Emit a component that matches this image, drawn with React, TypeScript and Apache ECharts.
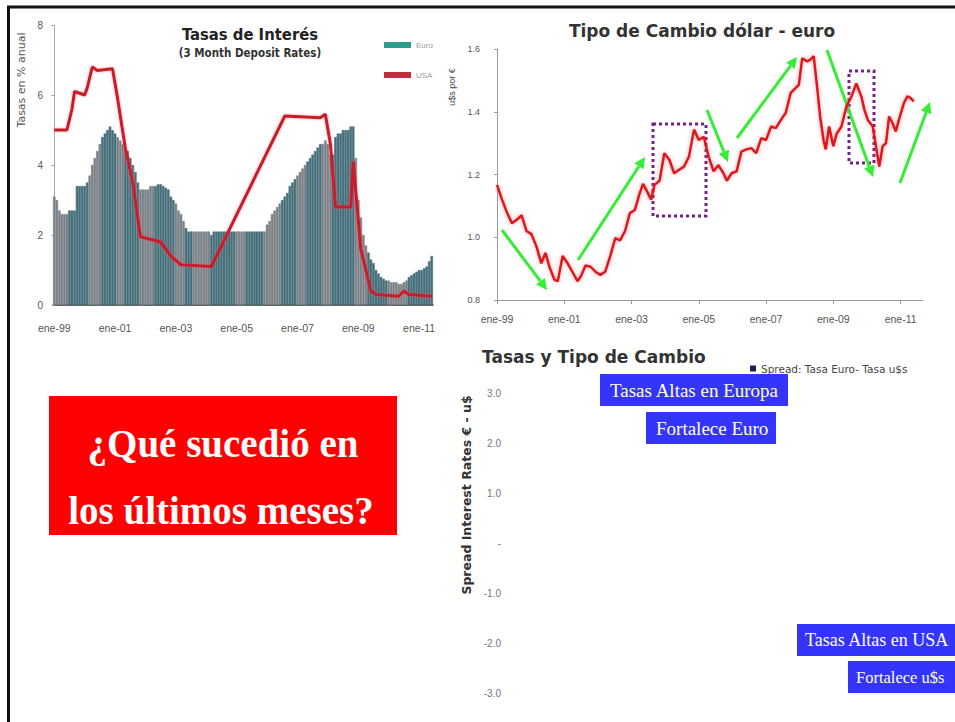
import React, { useEffect, useRef } from "react";
import * as echarts from "echarts";

// ---------- Data ----------
const monthAbbr = ["ene", "feb", "mar", "abr", "may", "jun", "jul", "ago", "sep", "oct", "nov", "dic"];
const startYear = 1999;
const monthCount = 150;
const months: string[] = Array.from({ length: monthCount }, (_, i) => {
  const y = (startYear + Math.floor(i / 12)) % 100;
  return monthAbbr[i % 12] + "-" + String(y).padStart(2, "0");
});

// 3-month Euro deposit rate (monthly, ene-99 .. jun-11)
const euroRate = [
  3.1, 3.0, 2.7, 2.6, 2.6, 2.6, 2.7, 2.7, 2.7, 3.4,
  3.4, 3.4, 3.4, 3.5, 3.7, 4.0, 4.2, 4.4, 4.6, 4.8,
  4.9, 5.0, 5.1, 5.0, 4.9, 4.8, 4.7, 4.6, 4.5, 4.4,
  4.2, 4.0, 3.8, 3.5, 3.3, 3.3, 3.3, 3.3, 3.4, 3.4,
  3.4, 3.45, 3.45, 3.4, 3.35, 3.3, 3.1, 3.0, 2.9, 2.7,
  2.6, 2.4, 2.2, 2.1, 2.1, 2.1, 2.1, 2.1, 2.1, 2.1,
  2.1, 2.1, 2.0, 2.1, 2.1, 2.1, 2.1, 2.1, 2.1, 2.1,
  2.1, 2.1, 2.1, 2.1, 2.1, 2.1, 2.1, 2.1, 2.1, 2.1,
  2.1, 2.1, 2.1, 2.1, 2.3, 2.4, 2.6, 2.7, 2.8, 2.9,
  3.0, 3.1, 3.2, 3.4, 3.5, 3.6, 3.7, 3.8, 3.9, 4.0,
  4.1, 4.2, 4.3, 4.4, 4.5, 4.6, 4.6, 4.7, 4.6, 4.3,
  4.3, 4.8, 4.9, 4.9, 5.0, 5.0, 5.0, 5.1, 5.1, 4.2,
  3.0, 2.5, 2.0, 1.7, 1.5, 1.3, 1.2, 1.0, 0.9, 0.8,
  0.75, 0.7, 0.7, 0.65, 0.65, 0.65, 0.6, 0.6, 0.65, 0.7,
  0.8, 0.85, 0.9, 0.95, 1.0, 1.0, 1.05, 1.1, 1.25, 1.4,
];

// 3-month USA deposit rate, read at the line's break points (month index, %)
const usaMonth = [0, 5, 7, 8, 12, 13, 15, 17, 23, 25, 28, 31, 34, 42, 46, 50, 62, 91, 105, 107, 109, 111, 117, 118, 121, 123, 125, 127, 136, 138, 140, 149];
const usaRate = [5.0, 5.0, 5.6, 6.1, 6.0, 6.2, 6.8, 6.7, 6.75, 5.9, 4.5, 3.5, 1.95, 1.8, 1.4, 1.15, 1.1, 5.4, 5.35, 5.45, 4.6, 2.8, 2.8, 4.1, 1.6, 1.0, 0.4, 0.3, 0.25, 0.4, 0.3, 0.25];

// Dollar-euro exchange rate (month index from ene-99, u$s per €)
const fxMonth = [0, 1.8, 3.5, 5.3, 7.0, 8.8, 10.5, 12.3, 14.1, 15.8, 17.3, 18.7, 20.5, 21.7, 23.4, 25.2, 26.9, 28.7, 29.9, 31.6, 33.4, 35.1, 36.9, 38.6, 40.4, 42.2, 43.9, 45.7, 47.4, 49.2, 50.9, 52.1, 53.3, 55.0, 56.2, 58.0, 59.7, 61.5, 63.2, 65.0, 66.7, 68.5, 70.3, 72.0, 73.8, 75.5, 77.3, 79.0, 80.8, 82.0, 83.7, 85.5, 87.2, 89.0, 90.7, 92.5, 94.3, 96.0, 97.8, 99.5, 101.3, 103.0, 104.8, 106.6, 107.7, 108.9, 110.7, 111.8, 113.0, 114.2, 115.3, 116.5, 117.3, 118.5, 120.0, 121.2, 122.9, 124.7, 126.5, 128.2, 130.0, 131.1, 132.3, 134.1, 135.2, 136.4, 137.6, 138.8, 139.9, 141.1, 142.3, 143.4, 145.2, 146.4, 147.5, 148.7];
const fxRate = [1.167, 1.12, 1.08, 1.045, 1.055, 1.07, 1.02, 1.01, 0.97, 0.917, 0.95, 0.906, 0.864, 0.86, 0.94, 0.917, 0.89, 0.86, 0.875, 0.91, 0.906, 0.89, 0.88, 0.89, 0.94, 0.997, 0.99, 1.02, 1.077, 1.087, 1.14, 1.17, 1.15, 1.12, 1.167, 1.18, 1.268, 1.247, 1.204, 1.215, 1.225, 1.257, 1.343, 1.31, 1.32, 1.257, 1.21, 1.23, 1.204, 1.18, 1.204, 1.21, 1.273, 1.28, 1.284, 1.268, 1.316, 1.31, 1.353, 1.348, 1.374, 1.396, 1.46, 1.476, 1.486, 1.57, 1.56, 1.566, 1.577, 1.48, 1.385, 1.31, 1.28, 1.353, 1.29, 1.33, 1.353, 1.417, 1.449, 1.49, 1.449, 1.406, 1.374, 1.353, 1.29, 1.225, 1.29, 1.3, 1.385, 1.364, 1.337, 1.374, 1.428, 1.449, 1.444, 1.433];

// Spread series (no bars visible in the picture)
const spreadName = "Spread: Tasa Euro- Tasa u$s";
const spreadValues: number[] = [];

// Stripe boundaries of the euro area (month index where the shade switches)
const stripeBreaks = [6, 14, 19, 25, 28, 34, 40, 48, 52, 55, 62, 72, 76, 83, 90, 96, 100, 106, 110, 119, 124, 132, 140, 150];

const TEAL = "#456f7a";
const GREY = "#7a8287";
const stripeColor = (i: number) => {
  let k = 0;
  while (k < stripeBreaks.length && i >= stripeBreaks[k]) k++;
  return k % 2 === 0 ? GREY : TEAL;
};

const every24 = (idx: number) => idx % 24 === 0;
const fxLabel = (v: number) => "ene-" + String((startYear + Math.round(v / 12)) % 100).padStart(2, "0");

const SANS = "Arial, 'Liberation Sans', sans-serif";
const WIDE = "'DejaVu Sans', Verdana, sans-serif";
const NARROW = "'Liberation Sans Narrow', 'Arial Narrow', 'DejaVu Sans Condensed', sans-serif";
const SERIF = "'Liberation Serif', 'Times New Roman', serif";

function arrow(x1: number, y1: number, x2: number, y2: number, color: string) {
  const dx = x2 - x1, dy = y2 - y1;
  const len = Math.sqrt(dx * dx + dy * dy);
  const ux = dx / len, uy = dy / len;
  const hl = 11, hw = 5.5;
  const bx = x2 - ux * hl, by = y2 - uy * hl;
  return {
    type: "group",
    children: [
      { type: "line", shape: { x1, y1, x2: bx, y2: by }, style: { stroke: color, lineWidth: 3 } },
      {
        type: "polygon",
        shape: { points: [[x2, y2], [bx - uy * hw, by + ux * hw], [bx + uy * hw, by - ux * hw]] },
        style: { fill: color },
      },
    ],
  };
}

function blueBox(x: number, y: number, w: number, text: string, size = 19, pad = 10) {
  return {
    type: "group",
    children: [
      { type: "rect", shape: { x, y, width: w, height: 32 }, style: { fill: "#3434fa" } },
      {
        type: "text",
        x: x + pad,
        y: y + 16,
        style: { text, fill: "#ffffff", font: size + "px " + SERIF, textVerticalAlign: "middle" },
      },
    ],
  };
}

export default function App() {
  const ref = useRef<HTMLDivElement>(null);
  useEffect(() => {
    if (!ref.current) return;
    const chart = echarts.init(ref.current, undefined, { renderer: "svg" });
    const axisFont = { fontFamily: SANS, fontSize: 10, color: "#555" };
    const option: any = {
      animation: false,
      backgroundColor: "#ffffff",
      textStyle: { fontFamily: SANS },
      title: [
        {
          text: "Tasas de Interés",
          subtext: "(3 Month Deposit Rates)",
          left: 245, top: 21, textAlign: "center", itemGap: 4,
          textStyle: { fontSize: 16.5, fontWeight: "bold", color: "#222", fontFamily: NARROW },
          subtextStyle: { fontSize: 11.5, fontWeight: "bold", color: "#333", fontFamily: NARROW },
        },
        {
          text: "Tipo de Cambio dólar - euro",
          left: 697, top: 17, textAlign: "center",
          textStyle: { fontSize: 17, fontWeight: "bold", color: "#333", fontFamily: WIDE },
        },
        {
          text: "Tasas y Tipo de Cambio",
          left: 477, top: 343,
          textStyle: { fontSize: 17, fontWeight: "bold", color: "#333", fontFamily: WIDE },
        },
      ],
      legend: [
        {
          data: ["Euro", "USA"], orient: "vertical", left: 379, top: 36, itemGap: 22,
          itemWidth: 27, itemHeight: 6, icon: "rect",
          textStyle: { fontSize: 8, color: "#999" },
        },
        {
          data: [spreadName], left: 745, top: 358, icon: "rect",
          itemWidth: 6, itemHeight: 6, itemGap: 3,
          textStyle: { fontSize: 10.5, color: "#444", fontFamily: WIDE },
        },
      ],
      grid: [
        { left: 53, top: 25, width: 380, height: 280 },
        { left: 497, top: 49, width: 426, height: 251 },
        { left: 505, top: 393, width: 420, height: 300 },
      ],
      xAxis: [
        {
          gridIndex: 0, type: "category", data: months, boundaryGap: true,
          axisLine: { lineStyle: { color: "#333", width: 1.5 } },
          axisTick: { interval: every24, alignWithLabel: true, length: 5, lineStyle: { color: "#9bb" } },
          axisLabel: { ...axisFont, fontSize: 10.5, interval: every24, margin: 17 },
        },
        { gridIndex: 0, type: "value", min: -0.5, max: 149.5, show: false },
        {
          gridIndex: 1, type: "value", min: 0, max: 152, interval: 24,
          axisLine: { lineStyle: { color: "#999" } },
          axisTick: { length: 4, lineStyle: { color: "#999" } },
          axisLabel: { ...axisFont, fontSize: 10.5, formatter: fxLabel, showMaxLabel: false, margin: 13 },
          splitLine: { show: false },
        },
        { gridIndex: 2, type: "category", data: [], show: false },
      ],
      yAxis: [
        {
          gridIndex: 0, type: "value", min: 0, max: 8, interval: 2,
          axisLine: { show: true, lineStyle: { color: "#aaa" } },
          axisTick: { show: true, length: 3, lineStyle: { color: "#aaa" } },
          axisLabel: { ...axisFont, margin: 10 },
          splitLine: { show: false },
        },
        {
          gridIndex: 1, type: "value", min: 0.8, max: 1.6, interval: 0.2,
          axisLine: { show: true, lineStyle: { color: "#999" } },
          axisTick: { show: true, length: 3, lineStyle: { color: "#999" } },
          axisLabel: { ...axisFont, fontSize: 9, formatter: (v: number) => v.toFixed(1), margin: 17 },
          splitLine: { show: false },
        },
        {
          gridIndex: 2, type: "value", min: -3, max: 3, interval: 1,
          axisLine: { show: false }, axisTick: { show: false },
          axisLabel: { ...axisFont, color: "#777", formatter: (v: number) => (v === 0 ? "-" : v.toFixed(1)), margin: 4 },
          splitLine: { show: false },
        },
      ],
      series: [
        {
          name: "Euro", type: "bar", xAxisIndex: 0, yAxisIndex: 0,
          barCategoryGap: "0%", itemStyle: { color: "#2a9d8f" },
          data: euroRate.map((v, i) => ({
            value: v,
            itemStyle: { color: stripeColor(i), borderColor: stripeColor(i), borderWidth: 0.6 },
          })),
        },
        {
          name: "USA", type: "line", xAxisIndex: 1, yAxisIndex: 0, symbol: "none",
          itemStyle: { color: "#c0303c" },
          lineStyle: { color: "#c81e2a", width: 3, shadowColor: "rgba(255,80,100,0.5)", shadowBlur: 3 },
          data: usaMonth.map((m, i) => [m, usaRate[i]]),
        },
        {
          name: "fx", type: "line", xAxisIndex: 2, yAxisIndex: 1, symbol: "none",
          lineStyle: { color: "#e0141e", width: 2.5, shadowColor: "rgba(255,60,60,0.45)", shadowBlur: 4 },
          data: fxMonth.map((m, i) => [m, fxRate[i]]),
        },
        {
          name: spreadName, type: "bar", xAxisIndex: 3, yAxisIndex: 2,
          itemStyle: { color: "#1c1c66" }, data: spreadValues,
        },
      ],
      graphic: [
        // slide frame
        { type: "line", shape: { x1: 7, y1: 7, x2: 955, y2: 7 }, style: { stroke: "#111", lineWidth: 3 } },
        { type: "line", shape: { x1: 8.5, y1: 6, x2: 8.5, y2: 722 }, style: { stroke: "#111", lineWidth: 3 } },
        // axis names
        {
          type: "text", x: 21, y: 80, rotation: Math.PI / 2,
          style: { text: "Tasas en % anual", font: "11px " + WIDE, fill: "#555", textAlign: "center", textVerticalAlign: "middle" },
        },
        {
          type: "text", x: 452, y: 87, rotation: Math.PI / 2,
          style: { text: "u$s por €", font: "9px " + SANS, fill: "#444", textAlign: "center", textVerticalAlign: "middle" },
        },
        {
          type: "text", x: 466, y: 495, rotation: Math.PI / 2,
          style: { text: "Spread Interest Rates € - u$", font: "bold 12.5px " + WIDE, fill: "#333", textAlign: "center", textVerticalAlign: "middle" },
        },
        // dotted boxes
        { type: "rect", shape: { x: 653, y: 124, width: 53, height: 92 }, style: { fill: "none", stroke: "#7a1f8e", lineWidth: 3, lineDash: [3, 3] } },
        { type: "rect", shape: { x: 849, y: 71, width: 25, height: 92 }, style: { fill: "none", stroke: "#7a1f8e", lineWidth: 3, lineDash: [3, 3] } },
        // green arrows
        arrow(502, 230, 547, 290, "#33ee33"),
        arrow(578, 260, 645, 157, "#33ee33"),
        arrow(707, 110, 728, 162, "#33ee33"),
        arrow(737, 138, 797, 57, "#33ee33"),
        arrow(827, 50, 873, 177, "#33ee33"),
        arrow(900, 183, 930, 102, "#33ee33"),
        // red question box
        { type: "rect", shape: { x: 49, y: 396, width: 348, height: 139 }, style: { fill: "#ff0000" } },
        {
          type: "text", x: 223, y: 443,
          style: { text: "¿Qué sucedió en", fill: "#ffffff", font: "bold 39px " + SERIF, textAlign: "center", textVerticalAlign: "middle" },
        },
        {
          type: "text", x: 221, y: 510,
          style: { text: "los últimos meses?", fill: "#ffffff", font: "bold 39px " + SERIF, textAlign: "center", textVerticalAlign: "middle" },
        },
        // blue annotation boxes
        blueBox(600, 374, 188, "Tasas Altas en Europa"),
        blueBox(646, 412, 130, "Fortalece Euro"),
        blueBox(797, 624, 170, "Tasas Altas en USA", 18, 8),
        blueBox(848, 661, 120, "Fortalece u$s", 16.5, 8),
      ],
    };
    chart.setOption(option);
    return () => chart.dispose();
  }, []);
  return <div ref={ref} style={{ position: "fixed", left: 0, top: 0, width: 955, height: 722 }} />;
}
